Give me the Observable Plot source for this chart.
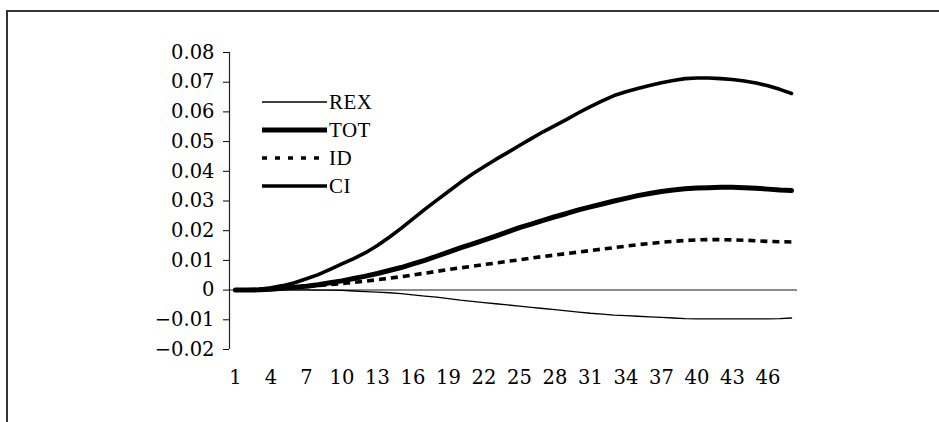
<!DOCTYPE html>
<html><head><meta charset="utf-8">
<script src="https://cdn.jsdelivr.net/npm/d3@7"></script>
<script src="https://cdn.jsdelivr.net/npm/@observablehq/plot@0.6"></script>
<style>
html,body{margin:0;padding:0;background:#fff;overflow:hidden;}
body{width:939px;height:422px;position:relative;}
#chart{position:absolute;left:0;top:0;width:939px;height:422px;}
</style></head><body>
<div id="chart"></div>
<script>
const periods = [1,2,3,4,5,6,7,8,9,10,11,12,13,14,15,16,17,18,19,20,21,22,23,24,25,26,27,28,29,30,31,32,33,34,35,36,37,38,39,40,41,42,43,44,45,46,47,48];
const REX = [0,0,0,0,0.0001,0.0001,0.0001,0,0,-0.0001,-0.0003,-0.0005,-0.0007,-0.0009,-0.0012,-0.0016,-0.002,-0.0024,-0.0029,-0.0034,-0.0038,-0.0042,-0.0046,-0.005,-0.0054,-0.0058,-0.0062,-0.0066,-0.007,-0.0074,-0.0078,-0.0081,-0.0084,-0.0086,-0.0088,-0.009,-0.0092,-0.0094,-0.0096,-0.0097,-0.0097,-0.0097,-0.0097,-0.0097,-0.0097,-0.0097,-0.0096,-0.0094];
const TOT = [0,0,0.0001,0.0003,0.0006,0.001,0.0013,0.0018,0.0025,0.0031,0.0039,0.0047,0.0056,0.0066,0.0076,0.0088,0.01,0.0114,0.0128,0.0142,0.0155,0.0168,0.0182,0.0196,0.021,0.0222,0.0235,0.0247,0.0258,0.027,0.028,0.029,0.03,0.0309,0.0318,0.0325,0.0332,0.0337,0.0341,0.0344,0.0345,0.0346,0.0346,0.0345,0.0343,0.034,0.0337,0.0335];
const ID = [0,0,0.0001,0.0003,0.0006,0.0009,0.0012,0.0015,0.0019,0.0022,0.0026,0.003,0.0035,0.004,0.0045,0.0051,0.0057,0.0063,0.0069,0.0075,0.008,0.0086,0.0091,0.0097,0.0102,0.0108,0.0113,0.0118,0.0123,0.0128,0.0133,0.0138,0.0143,0.0148,0.0153,0.0157,0.0161,0.0164,0.0167,0.0169,0.017,0.017,0.0169,0.0168,0.0166,0.0164,0.0163,0.0162];
const CI = [0,0.0001,0.0003,0.0008,0.0015,0.0025,0.0038,0.0052,0.007,0.0088,0.0106,0.0126,0.015,0.0178,0.0208,0.024,0.0272,0.0302,0.0332,0.0362,0.039,0.0415,0.044,0.0463,0.0487,0.051,0.0533,0.0554,0.0575,0.0597,0.0618,0.0637,0.0655,0.0668,0.0679,0.0689,0.0698,0.0706,0.0712,0.0714,0.0714,0.0712,0.0709,0.0704,0.0697,0.0688,0.0676,0.0662];
const seriesNames = ["REX","TOT","ID","CI"];
const xTicks = [1,4,7,10,13,16,19,22,25,28,31,34,37,40,43,46];
const yTicks = [-0.02,-0.01,0,0.01,0.02,0.03,0.04,0.05,0.06,0.07,0.08];

const seriesValues = {REX, TOT, ID, CI};
const styles = {
  REX: {strokeWidth: 1.3, dash: null, legendDash: null},
  TOT: {strokeWidth: 5, dash: null, legendDash: null},
  ID:  {strokeWidth: 3.6, dash: "7,5", legendDash: "5,8"},
  CI:  {strokeWidth: 3.6, dash: null, legendDash: null}
};
const rows = seriesNames.flatMap(s => periods.map((p, i) => ({series: s, period: p, value: seriesValues[s][i]})));
const fmt = d => d === 0 ? "0" : d3.format(".2f")(d);

const plot = Plot.plot({
  width: 939,
  height: 422,
  marginLeft: 229,
  marginRight: 142,
  marginTop: 52,
  marginBottom: 73,
  style: {fontFamily: "'DejaVu Serif', serif", fontSize: "19.5px", color: "#000", background: "transparent"},
  x: {domain: [0.5, 48.5], ticks: xTicks, tickSize: 0, tickPadding: 21, tickFormat: d => String(d), label: null},
  y: {domain: [-0.02, 0.08], ticks: yTicks, tickSize: 6, tickPadding: 9, tickFormat: fmt, label: null},
  marks: [
    Plot.ruleY([0], {stroke: "#666", strokeWidth: 1.5}),
    Plot.ruleX([0.5], {stroke: "#222", strokeWidth: 1.2}),
    ...seriesNames.map(s => Plot.line(rows.filter(r => r.series === s), {
      x: "period", y: "value", stroke: "#000",
      strokeWidth: styles[s].strokeWidth,
      strokeDasharray: styles[s].dash || undefined,
      strokeLinecap: styles[s].dash ? "butt" : "round",
      strokeLinejoin: "round"
    }))
  ]
});
document.getElementById("chart").appendChild(plot);

const svg = d3.select(plot);
// outer box: only its left and top edges fall inside the picture
svg.append("path").attr("d", "M7,422V11H939").attr("fill", "none")
  .attr("stroke", "#333").attr("stroke-width", 2);

// legend (inside plot area, top-left)
const lg = svg.append("g").attr("transform", "translate(262,102)");
seriesNames.forEach((s, i) => {
  const g = lg.append("g").attr("transform", `translate(0,${i * 28})`);
  g.append("line").attr("x1", 0).attr("x2", 65).attr("y1", 0).attr("y2", 0)
    .attr("stroke", "#000").attr("stroke-width", styles[s].strokeWidth)
    .attr("stroke-dasharray", styles[s].legendDash);
  g.append("text").attr("x", 67).attr("y", 0).attr("dy", "0.35em")
    .attr("text-anchor", "start")
    .attr("font-family", "'Liberation Serif', serif").attr("font-size", 21)
    .attr("letter-spacing", "0.5px").attr("fill", "#000").text(s);
});
</script>
</body></html>
